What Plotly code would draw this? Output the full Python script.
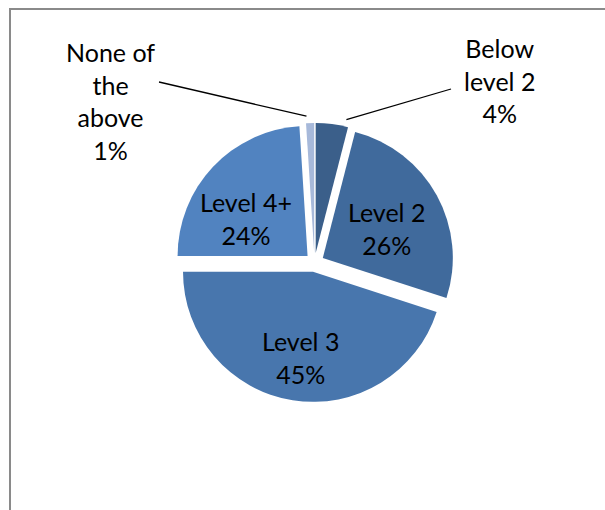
import math
import plotly.graph_objects as go

# ---- data ----
labels = ["Below level 2", "Level 2", "Level 3", "Level 4+", "None of the above"]
label_text = ["Below<br>level 2", "Level 2", "Level 3", "Level 4+", "None of<br>the<br>above"]
values = [4, 26, 45, 24, 1]
colors = ["#3B5F8A", "#406A9C", "#4876AD", "#5183C0", "#A7B9DA"]

# ---- layout geometry ----
W, H = 605, 510
FONT = "Lato"
FS = 25
pull = 0.073
cx, cy = 314.5, 262.5
R = 130
box = 2 * R * (1 + pull)
dom_x = [(cx - box / 2) / W, (cx + box / 2) / W]
dom_y = [1 - (cy + box / 2) / H, 1 - (cy - box / 2) / H]

# label placement per slice: ("inside", radius fraction, angle offset) or ("outside", label px, leader px)
placement = [
    ("outside", (499, 80), (451, 89)),
    ("inside", 0.536, 3.9),
    ("inside", 0.666, -0.4),
    ("inside", 0.555, -11.9),
    ("outside", (110, 101), (159, 82)),
]

total = sum(values)
pct = [f"{round(v / total * 100)}%" for v in values]

fig = go.Figure(go.Pie(
    labels=labels,
    values=values,
    sort=False,
    direction="clockwise",
    rotation=0,
    pull=[pull] * len(values),
    marker=dict(colors=colors, line=dict(width=0)),
    textinfo="none",
    domain=dict(x=dom_x, y=dom_y),
    showlegend=False,
    hoverinfo="label+percent",
))

cum = 0
starts = []
for v in values:
    starts.append(cum)
    cum += v

shapes = []
annotations = []
for i, p in enumerate(placement):
    a0 = starts[i] / total * 360
    a1 = (starts[i] + values[i]) / total * 360
    mid = (a0 + a1) / 2
    pcx = cx + R * pull * math.sin(math.radians(mid))
    pcy = cy - R * pull * math.cos(math.radians(mid))
    if p[0] == "inside":
        rf, dang = p[1], p[2]
        ang = math.radians(mid + dang)
        lx = pcx + rf * R * math.sin(ang)
        ly = pcy - rf * R * math.cos(ang)
    else:
        (lx, ly), lstart = p[1], p[2]
        if lx > cx:
            ang = a1 - 0.1 * (a1 - a0)
        else:
            ang = a0 + 0.1 * (a1 - a0)
        rr = R + 7
        ex = pcx + rr * math.sin(math.radians(ang))
        ey = pcy - rr * math.cos(math.radians(ang))
        shapes.append(dict(type="line", xref="paper", yref="paper",
                           x0=lstart[0] / W, y0=1 - lstart[1] / H,
                           x1=ex / W, y1=1 - ey / H,
                           line=dict(color="black", width=1.3)))
    annotations.append(dict(xref="paper", yref="paper", x=lx / W, y=1 - ly / H,
                            text=f"{label_text[i]}<br>{pct[i]}", showarrow=False,
                            xanchor="center", yanchor="middle", align="center",
                            font=dict(family=FONT, size=FS, color="black")))

# chart frame
shapes.append(dict(type="rect", xref="paper", yref="paper",
                   x0=10 / W, y0=1 - 9 / H, x1=(W + 20) / W, y1=-20 / H,
                   line=dict(color="#8a8a8a", width=2)))

fig.update_layout(
    width=W, height=H,
    margin=dict(l=0, r=0, t=0, b=0),
    paper_bgcolor="white",
    plot_bgcolor="white",
    font=dict(family=FONT, size=FS, color="black"),
    shapes=shapes,
    annotations=annotations,
)

fig.write_html("out.html")
